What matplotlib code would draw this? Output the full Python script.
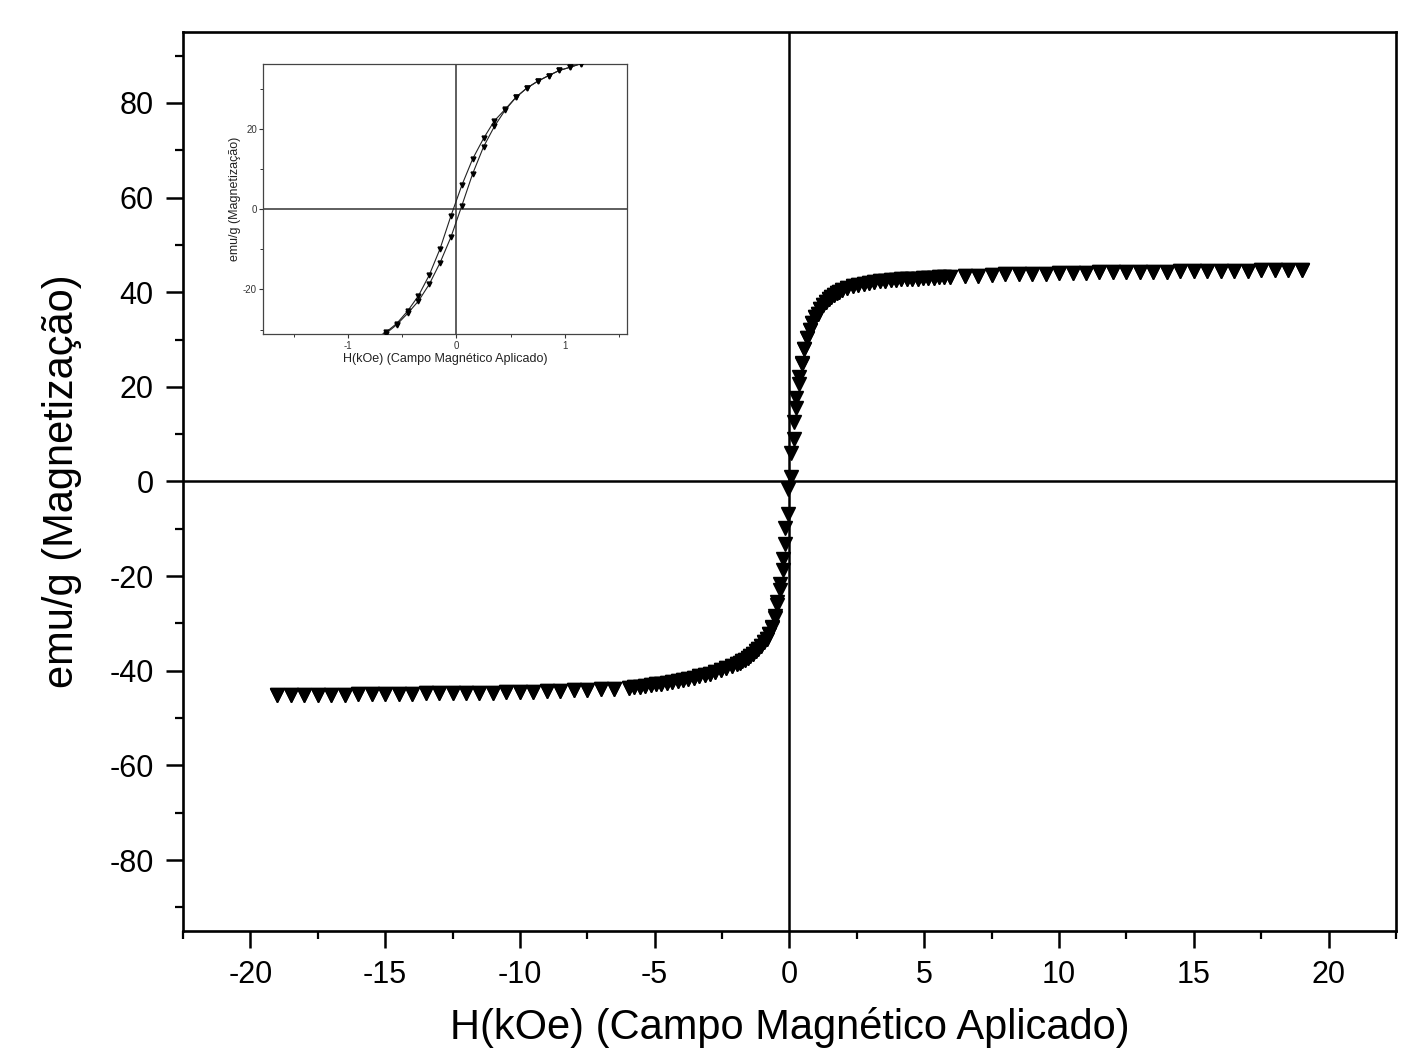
import matplotlib
matplotlib.use('Agg')
import matplotlib.pyplot as plt
from matplotlib.ticker import MultipleLocator

plt.rcParams['font.family'] = ['Liberation Sans', 'DejaVu Sans']
plt.rcParams['axes.unicode_minus'] = False

# ---------------- data (kOe, emu/g) ----------------
H_neg_outer = [-19.0, -18.5, -18.0, -17.5, -17.0, -16.5, -16.0, -15.5, -15.0, -14.5,
               -14.0, -13.5, -13.0, -12.5, -12.0, -11.5, -11.0, -10.5, -10.0, -9.5,
               -9.0, -8.5, -8.0, -7.5, -7.0, -6.5,
               -5.95, -5.75, -5.55, -5.35, -5.15, -4.95, -4.75, -4.55, -4.35, -4.15,
               -3.95, -3.75, -3.55, -3.35, -3.15, -2.95, -2.75, -2.55, -2.35, -2.15,
               -1.95, -1.85, -1.75, -1.65, -1.55, -1.45, -1.35, -1.25, -1.15, -1.05,
               -0.95, -0.85, -0.75]
M_neg_outer = [-45.2, -45.2, -45.2, -45.1, -45.1, -45.1, -45.0, -45.0, -45.0, -44.9,
               -44.9, -44.8, -44.8, -44.7, -44.7, -44.6, -44.6, -44.5, -44.4, -44.4,
               -44.3, -44.2, -44.1, -44.0, -43.9, -43.8,
               -43.6, -43.5, -43.4, -43.2, -43.1, -42.9, -42.8, -42.6, -42.4, -42.2,
               -42.0, -41.8, -41.5, -41.2, -40.9, -40.6, -40.2, -39.8, -39.4, -39.0,
               -38.6, -38.3, -38.0, -37.7, -37.3, -36.9, -36.4, -35.9, -35.3, -34.7,
               -34.0, -33.2, -32.2]

H_loop = [-0.65, -0.55, -0.45, -0.35, -0.25, -0.15, -0.05, 0.05, 0.15,
          0.25, 0.35, 0.45, 0.55, 0.65, 0.75, 0.85, 0.95, 1.05]
M_loop_down = [-30.7, -28.5, -25.4, -21.6, -16.4, -9.8, -1.6, 6.0, 12.6,
               17.7, 22.1, 25.0, 28.0, 30.3, 32.0, 33.4, 34.7, 35.5]
M_loop_up = [-31.0, -28.8, -26.0, -22.9, -18.7, -13.3, -6.9, 0.9, 8.9,
             15.6, 20.7, 24.8, 28.0, 30.3, 32.0, 33.4, 34.7, 35.5]

H_pos_outer = [1.15, 1.25, 1.35, 1.45, 1.55, 1.65, 1.75, 1.85, 1.95,
               2.15, 2.35, 2.55, 2.75, 2.95, 3.15, 3.35, 3.55, 3.75, 3.95,
               4.15, 4.35, 4.55, 4.75, 4.95, 5.15, 5.35, 5.55, 5.75, 5.95,
               6.5, 7.0, 7.5, 8.0, 8.5, 9.0, 9.5, 10.0, 10.5, 11.0,
               11.5, 12.0, 12.5, 13.0, 13.5, 14.0, 14.5, 15.0, 15.5, 16.0,
               16.5, 17.0, 17.5, 18.0, 18.5, 19.0]
M_pos_outer = [36.4, 37.2, 37.9, 38.5, 39.0, 39.4, 39.8, 40.1, 40.4,
               40.9, 41.3, 41.6, 41.8, 42.0, 42.2, 42.3, 42.4, 42.5, 42.6,
               42.7, 42.8, 42.9, 42.9, 43.0, 43.1, 43.1, 43.2, 43.2, 43.3,
               43.4, 43.5, 43.7, 43.8, 43.8, 43.9, 43.9, 44.0, 44.0, 44.1,
               44.2, 44.2, 44.2, 44.3, 44.3, 44.3, 44.4, 44.4, 44.4, 44.5,
               44.5, 44.5, 44.6, 44.6, 44.6, 44.8]

# branches
H_down = H_pos_outer[::-1] + H_loop[::-1] + H_neg_outer[::-1]
M_down = M_pos_outer[::-1] + M_loop_down[::-1] + M_neg_outer[::-1]
H_up = H_neg_outer + H_loop + H_pos_outer
M_up = M_neg_outer + M_loop_up + M_pos_outer

# ---------------- figure ----------------
fig = plt.figure(figsize=(14.02, 10.49), dpi=100)
ax = fig.add_axes([0.1305, 0.1125, 0.8652, 0.857])

ax.axhline(0, color='black', lw=1.8, zorder=1)
ax.axvline(0, color='black', lw=1.8, zorder=1)
ax.plot(H_up, M_up, linestyle='none', marker='v', ms=10.5, color='black', zorder=3)
ax.plot(H_down, M_down, linestyle='none', marker='v', ms=10.5, color='black', zorder=3)

ax.set_xlim(-22.5, 22.5)
ax.set_ylim(-95, 95)
ax.set_xticks([-20, -15, -10, -5, 0, 5, 10, 15, 20])
ax.set_yticks([-80, -60, -40, -20, 0, 20, 40, 60, 80])
ax.xaxis.set_minor_locator(MultipleLocator(2.5))
ax.yaxis.set_minor_locator(MultipleLocator(10))
ax.tick_params(axis='both', which='major', direction='out', length=12, width=1.8,
               labelsize=22, top=False, right=False)
ax.tick_params(axis='x', which='major', pad=9)
ax.tick_params(axis='y', which='major', pad=9)
ax.tick_params(which='minor', direction='out', length=6, width=1.6,
               top=False, right=False)
for sp in ax.spines.values():
    sp.set_linewidth(1.9)

ax.set_xlabel('H(kOe) (Campo Magnético Aplicado)', fontsize=30, labelpad=12)
ax.set_ylabel('emu/g (Magnetização)', fontsize=30, labelpad=20)

# ---------------- inset ----------------
axi = fig.add_axes([0.1878, 0.6813, 0.2592, 0.2577])
axi.axhline(0, color='#333333', lw=1.1, zorder=1)
axi.axvline(0, color='#333333', lw=1.1, zorder=1)
axi.plot(H_down, M_down, '-', color='#222222', lw=0.8, marker='v', ms=3.5,
         markerfacecolor='black', markeredgecolor='black', zorder=3)
axi.plot(H_up, M_up, '-', color='#222222', lw=0.8, marker='v', ms=3.5,
         markerfacecolor='black', markeredgecolor='black', zorder=3)
axi.set_xlim(-1.78, 1.57)
axi.set_ylim(-31.2, 36.3)
axi.set_xticks([-1, 0, 1])
axi.set_yticks([-20, 0, 20])
axi.xaxis.set_minor_locator(MultipleLocator(0.5))
axi.yaxis.set_minor_locator(MultipleLocator(10))
axi.tick_params(which='major', direction='out', length=3, width=0.8,
                labelsize=7, pad=1.5, colors='#333333')
axi.tick_params(which='minor', direction='out', length=2, width=0.7,
                colors='#333333')
for sp in axi.spines.values():
    sp.set_linewidth(0.9)
    sp.set_color('#444444')
axi.set_xlabel('H(kOe) (Campo Magnético Aplicado)', fontsize=9, labelpad=1.5,
               color='#222222')
axi.set_ylabel('emu/g (Magnetização)', fontsize=9, labelpad=1.5, color='#222222')

fig.savefig('out.png', dpi=100)
